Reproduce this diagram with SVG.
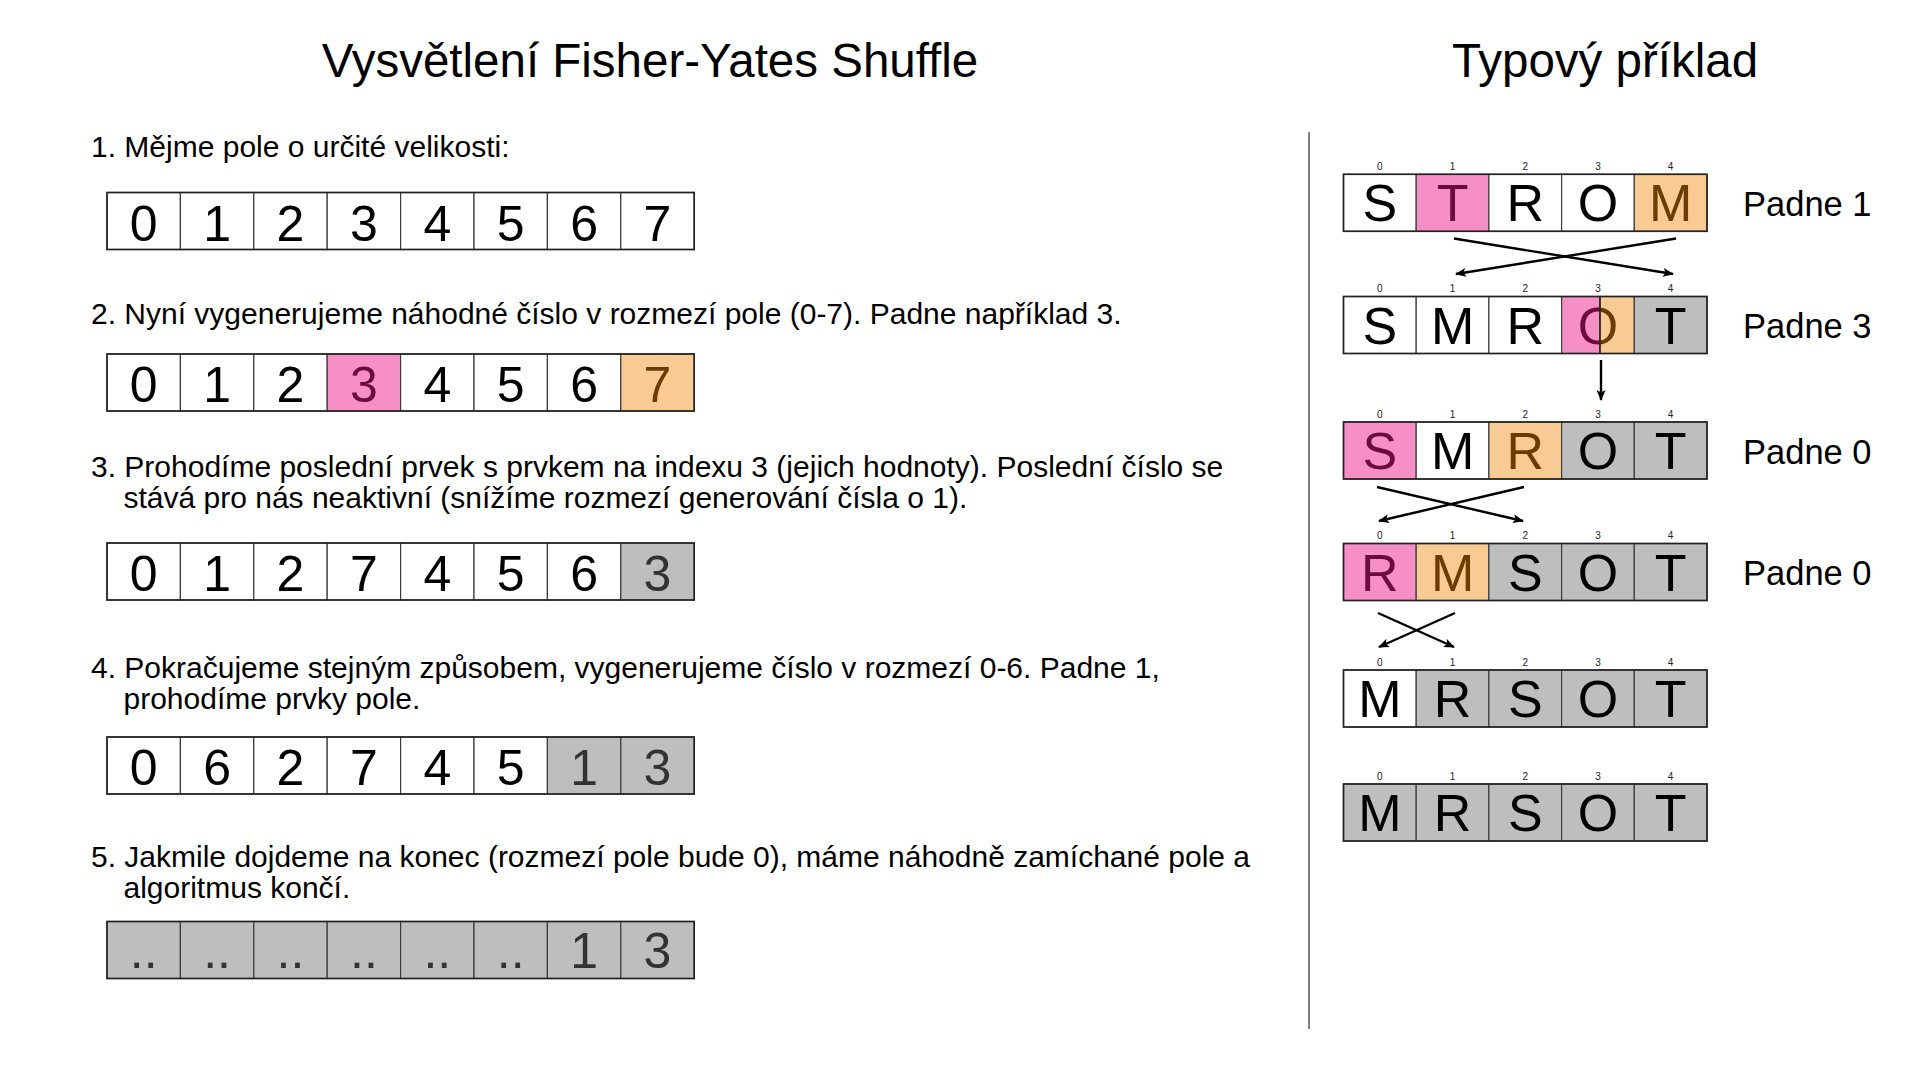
<svg xmlns="http://www.w3.org/2000/svg" width="1920" height="1080" viewBox="0 0 1920 1080">
<style>
text{font-family:"Liberation Sans",Arial,sans-serif}
.title{font-size:47.5px;fill:#000;text-anchor:middle}
.step{font-size:30px;fill:#000}
.cell{stroke:#3c3c3c;stroke-width:1.2}
.frame{fill:none;stroke:#222;stroke-width:1.6}
.w{fill:#fff}.p{fill:#F78FC7}.o{fill:#F8CA94}.g{fill:#BEBEBE}
.d{font-size:50px;text-anchor:middle;fill:#000}
.l{font-size:52px;text-anchor:middle;fill:#000}
.tp{fill:#6B0A3C}.to{fill:#6A3C00}.tg{fill:#333}
.idx{font-size:10px;text-anchor:middle;fill:#222}
.pad{font-size:34.5px;fill:#000}
.arr{stroke:#000;stroke-width:2.4;fill:none;marker-end:url(#ah)}
</style>
<defs>
<marker id="ah" markerUnits="userSpaceOnUse" markerWidth="12" markerHeight="9" refX="10" refY="4.5" orient="auto">
<path d="M0,0 L11,4.5 L0,9 L2.5,4.5 z" fill="#000"/>
</marker>
<clipPath id="cl"><rect x="1561.6" y="296.5" width="38.4" height="57"/></clipPath>
<clipPath id="cr"><rect x="1600" y="296.5" width="34.3" height="57"/></clipPath>
</defs>
<rect width="1920" height="1080" fill="#fff"/>

<g id="titles">
<text class="title" x="650" y="77">Vysvětlení Fisher-Yates Shuffle</text>
<text class="title" x="1605" y="77">Typový příklad</text>
</g>

<g id="steps">
<text class="step" x="91" y="157">1. Mějme pole o určité velikosti:</text>
<text class="step" x="91" y="324">2. Nyní vygenerujeme náhodné číslo v rozmezí pole (0-7). Padne například 3.</text>
<text class="step" x="91" y="477">3. Prohodíme poslední prvek s prvkem na indexu 3 (jejich hodnoty). Poslední číslo se</text>
<text class="step" x="123.5" y="508">stává pro nás neaktivní (snížíme rozmezí generování čísla o 1).</text>
<text class="step" x="91" y="678">4. Pokračujeme stejným způsobem, vygenerujeme číslo v rozmezí 0-6. Padne 1,</text>
<text class="step" x="123.5" y="709">prohodíme prvky pole.</text>
<text class="step" x="91" y="867">5. Jakmile dojdeme na konec (rozmezí pole bude 0), máme náhodně zamíchané pole a</text>
<text class="step" x="123.5" y="898">algoritmus končí.</text>
</g>

<g id="array1">
<rect class="cell w" x="107" y="192.5" width="73.4" height="57"/>
<rect class="cell w" x="180.4" y="192.5" width="73.4" height="57"/>
<rect class="cell w" x="253.8" y="192.5" width="73.4" height="57"/>
<rect class="cell w" x="327.2" y="192.5" width="73.4" height="57"/>
<rect class="cell w" x="400.6" y="192.5" width="73.4" height="57"/>
<rect class="cell w" x="474" y="192.5" width="73.4" height="57"/>
<rect class="cell w" x="547.4" y="192.5" width="73.4" height="57"/>
<rect class="cell w" x="620.8" y="192.5" width="73.4" height="57"/>
<rect class="frame" x="107" y="192.5" width="587.2" height="57"/>
<text class="d" x="143.7" y="240.5">0</text>
<text class="d" x="217.1" y="240.5">1</text>
<text class="d" x="290.5" y="240.5">2</text>
<text class="d" x="363.9" y="240.5">3</text>
<text class="d" x="437.3" y="240.5">4</text>
<text class="d" x="510.7" y="240.5">5</text>
<text class="d" x="584.1" y="240.5">6</text>
<text class="d" x="657.5" y="240.5">7</text>
</g>

<g id="array2">
<rect class="cell w" x="107" y="354" width="73.4" height="57"/>
<rect class="cell w" x="180.4" y="354" width="73.4" height="57"/>
<rect class="cell w" x="253.8" y="354" width="73.4" height="57"/>
<rect class="cell p" x="327.2" y="354" width="73.4" height="57"/>
<rect class="cell w" x="400.6" y="354" width="73.4" height="57"/>
<rect class="cell w" x="474" y="354" width="73.4" height="57"/>
<rect class="cell w" x="547.4" y="354" width="73.4" height="57"/>
<rect class="cell o" x="620.8" y="354" width="73.4" height="57"/>
<rect class="frame" x="107" y="354" width="587.2" height="57"/>
<text class="d" x="143.7" y="402">0</text>
<text class="d" x="217.1" y="402">1</text>
<text class="d" x="290.5" y="402">2</text>
<text class="d tp" x="363.9" y="402">3</text>
<text class="d" x="437.3" y="402">4</text>
<text class="d" x="510.7" y="402">5</text>
<text class="d" x="584.1" y="402">6</text>
<text class="d to" x="657.5" y="402">7</text>
</g>

<g id="array3">
<rect class="cell w" x="107" y="543" width="73.4" height="57"/>
<rect class="cell w" x="180.4" y="543" width="73.4" height="57"/>
<rect class="cell w" x="253.8" y="543" width="73.4" height="57"/>
<rect class="cell w" x="327.2" y="543" width="73.4" height="57"/>
<rect class="cell w" x="400.6" y="543" width="73.4" height="57"/>
<rect class="cell w" x="474" y="543" width="73.4" height="57"/>
<rect class="cell w" x="547.4" y="543" width="73.4" height="57"/>
<rect class="cell g" x="620.8" y="543" width="73.4" height="57"/>
<rect class="frame" x="107" y="543" width="587.2" height="57"/>
<text class="d" x="143.7" y="591">0</text>
<text class="d" x="217.1" y="591">1</text>
<text class="d" x="290.5" y="591">2</text>
<text class="d" x="363.9" y="591">7</text>
<text class="d" x="437.3" y="591">4</text>
<text class="d" x="510.7" y="591">5</text>
<text class="d" x="584.1" y="591">6</text>
<text class="d tg" x="657.5" y="591">3</text>
</g>

<g id="array4">
<rect class="cell w" x="107" y="737" width="73.4" height="57"/>
<rect class="cell w" x="180.4" y="737" width="73.4" height="57"/>
<rect class="cell w" x="253.8" y="737" width="73.4" height="57"/>
<rect class="cell w" x="327.2" y="737" width="73.4" height="57"/>
<rect class="cell w" x="400.6" y="737" width="73.4" height="57"/>
<rect class="cell w" x="474" y="737" width="73.4" height="57"/>
<rect class="cell g" x="547.4" y="737" width="73.4" height="57"/>
<rect class="cell g" x="620.8" y="737" width="73.4" height="57"/>
<rect class="frame" x="107" y="737" width="587.2" height="57"/>
<text class="d" x="143.7" y="785">0</text>
<text class="d" x="217.1" y="785">6</text>
<text class="d" x="290.5" y="785">2</text>
<text class="d" x="363.9" y="785">7</text>
<text class="d" x="437.3" y="785">4</text>
<text class="d" x="510.7" y="785">5</text>
<text class="d tg" x="584.1" y="785">1</text>
<text class="d tg" x="657.5" y="785">3</text>
</g>

<g id="array5">
<rect class="cell g" x="107" y="921.5" width="73.4" height="57"/>
<rect class="cell g" x="180.4" y="921.5" width="73.4" height="57"/>
<rect class="cell g" x="253.8" y="921.5" width="73.4" height="57"/>
<rect class="cell g" x="327.2" y="921.5" width="73.4" height="57"/>
<rect class="cell g" x="400.6" y="921.5" width="73.4" height="57"/>
<rect class="cell g" x="474" y="921.5" width="73.4" height="57"/>
<rect class="cell g" x="547.4" y="921.5" width="73.4" height="57"/>
<rect class="cell g" x="620.8" y="921.5" width="73.4" height="57"/>
<rect class="frame" x="107" y="921.5" width="587.2" height="57"/>
<text class="d tg" x="143.7" y="968">..</text>
<text class="d tg" x="217.1" y="968">..</text>
<text class="d tg" x="290.5" y="968">..</text>
<text class="d tg" x="363.9" y="968">..</text>
<text class="d tg" x="437.3" y="968">..</text>
<text class="d tg" x="510.7" y="968">..</text>
<text class="d tg" x="584.1" y="968">1</text>
<text class="d tg" x="657.5" y="968">3</text>
</g>

<g id="separator">
<line x1="1309" y1="132" x2="1309" y2="1029" stroke="#555" stroke-width="1.5"/>
</g>

<g id="row1">
<rect class="cell w" x="1343.5" y="174.3" width="72.7" height="57"/>
<rect class="cell p" x="1416.2" y="174.3" width="72.7" height="57"/>
<rect class="cell w" x="1488.9" y="174.3" width="72.7" height="57"/>
<rect class="cell w" x="1561.6" y="174.3" width="72.7" height="57"/>
<rect class="cell o" x="1634.3" y="174.3" width="72.7" height="57"/>
<rect class="frame" x="1343.5" y="174.3" width="363.5" height="57"/>
<text class="idx" x="1379.85" y="169.8">0</text><text class="idx" x="1452.55" y="169.8">1</text><text class="idx" x="1525.25" y="169.8">2</text><text class="idx" x="1597.95" y="169.8">3</text><text class="idx" x="1670.65" y="169.8">4</text>
<text class="l" x="1379.85" y="221.3">S</text>
<text class="l tp" x="1452.55" y="221.3">T</text>
<text class="l" x="1525.25" y="221.3">R</text>
<text class="l" x="1597.95" y="221.3">O</text>
<text class="l to" x="1670.65" y="221.3">M</text>
<text class="pad" x="1743" y="216">Padne 1</text>
</g>

<g id="row2">
<rect class="cell w" x="1343.5" y="296.5" width="72.7" height="57"/>
<rect class="cell w" x="1416.2" y="296.5" width="72.7" height="57"/>
<rect class="cell w" x="1488.9" y="296.5" width="72.7" height="57"/>
<rect class="cell p" x="1561.6" y="296.5" width="38.4" height="57"/>
<rect class="cell o" x="1600" y="296.5" width="34.3" height="57"/>
<rect class="cell g" x="1634.3" y="296.5" width="72.7" height="57"/>
<rect class="frame" x="1343.5" y="296.5" width="363.5" height="57"/>
<text class="idx" x="1379.85" y="292">0</text><text class="idx" x="1452.55" y="292">1</text><text class="idx" x="1525.25" y="292">2</text><text class="idx" x="1597.95" y="292">3</text><text class="idx" x="1670.65" y="292">4</text>
<text class="l" x="1379.85" y="343.5">S</text>
<text class="l" x="1452.55" y="343.5">M</text>
<text class="l" x="1525.25" y="343.5">R</text>
<text class="l tp" x="1597.95" y="343.5" clip-path="url(#cl)">O</text>
<text class="l to" x="1597.95" y="343.5" clip-path="url(#cr)">O</text>
<line x1="1600" y1="296.5" x2="1600" y2="353.5" stroke="#222" stroke-width="1.4"/>
<text class="l" x="1670.65" y="343.5">T</text>
<text class="pad" x="1743" y="338.2">Padne 3</text>
</g>

<g id="row3">
<rect class="cell p" x="1343.5" y="422" width="72.7" height="57"/>
<rect class="cell w" x="1416.2" y="422" width="72.7" height="57"/>
<rect class="cell o" x="1488.9" y="422" width="72.7" height="57"/>
<rect class="cell g" x="1561.6" y="422" width="72.7" height="57"/>
<rect class="cell g" x="1634.3" y="422" width="72.7" height="57"/>
<rect class="frame" x="1343.5" y="422" width="363.5" height="57"/>
<text class="idx" x="1379.85" y="417.5">0</text><text class="idx" x="1452.55" y="417.5">1</text><text class="idx" x="1525.25" y="417.5">2</text><text class="idx" x="1597.95" y="417.5">3</text><text class="idx" x="1670.65" y="417.5">4</text>
<text class="l tp" x="1379.85" y="469">S</text>
<text class="l" x="1452.55" y="469">M</text>
<text class="l to" x="1525.25" y="469">R</text>
<text class="l" x="1597.95" y="469">O</text>
<text class="l" x="1670.65" y="469">T</text>
<text class="pad" x="1743" y="463.7">Padne 0</text>
</g>

<g id="row4">
<rect class="cell p" x="1343.5" y="543.5" width="72.7" height="57"/>
<rect class="cell o" x="1416.2" y="543.5" width="72.7" height="57"/>
<rect class="cell g" x="1488.9" y="543.5" width="72.7" height="57"/>
<rect class="cell g" x="1561.6" y="543.5" width="72.7" height="57"/>
<rect class="cell g" x="1634.3" y="543.5" width="72.7" height="57"/>
<rect class="frame" x="1343.5" y="543.5" width="363.5" height="57"/>
<text class="idx" x="1379.85" y="539">0</text><text class="idx" x="1452.55" y="539">1</text><text class="idx" x="1525.25" y="539">2</text><text class="idx" x="1597.95" y="539">3</text><text class="idx" x="1670.65" y="539">4</text>
<text class="l tp" x="1379.85" y="590.5">R</text>
<text class="l to" x="1452.55" y="590.5">M</text>
<text class="l" x="1525.25" y="590.5">S</text>
<text class="l" x="1597.95" y="590.5">O</text>
<text class="l" x="1670.65" y="590.5">T</text>
<text class="pad" x="1743" y="585.2">Padne 0</text>
</g>

<g id="row5">
<rect class="cell w" x="1343.5" y="670" width="72.7" height="57"/>
<rect class="cell g" x="1416.2" y="670" width="72.7" height="57"/>
<rect class="cell g" x="1488.9" y="670" width="72.7" height="57"/>
<rect class="cell g" x="1561.6" y="670" width="72.7" height="57"/>
<rect class="cell g" x="1634.3" y="670" width="72.7" height="57"/>
<rect class="frame" x="1343.5" y="670" width="363.5" height="57"/>
<text class="idx" x="1379.85" y="665.5">0</text><text class="idx" x="1452.55" y="665.5">1</text><text class="idx" x="1525.25" y="665.5">2</text><text class="idx" x="1597.95" y="665.5">3</text><text class="idx" x="1670.65" y="665.5">4</text>
<text class="l" x="1379.85" y="717">M</text>
<text class="l" x="1452.55" y="717">R</text>
<text class="l" x="1525.25" y="717">S</text>
<text class="l" x="1597.95" y="717">O</text>
<text class="l" x="1670.65" y="717">T</text>
</g>

<g id="row6">
<rect class="cell g" x="1343.5" y="784" width="72.7" height="57"/>
<rect class="cell g" x="1416.2" y="784" width="72.7" height="57"/>
<rect class="cell g" x="1488.9" y="784" width="72.7" height="57"/>
<rect class="cell g" x="1561.6" y="784" width="72.7" height="57"/>
<rect class="cell g" x="1634.3" y="784" width="72.7" height="57"/>
<rect class="frame" x="1343.5" y="784" width="363.5" height="57"/>
<text class="idx" x="1379.85" y="779.5">0</text><text class="idx" x="1452.55" y="779.5">1</text><text class="idx" x="1525.25" y="779.5">2</text><text class="idx" x="1597.95" y="779.5">3</text><text class="idx" x="1670.65" y="779.5">4</text>
<text class="l" x="1379.85" y="831">M</text>
<text class="l" x="1452.55" y="831">R</text>
<text class="l" x="1525.25" y="831">S</text>
<text class="l" x="1597.95" y="831">O</text>
<text class="l" x="1670.65" y="831">T</text>
</g>

<g id="connectors">
<line class="arr" x1="1454" y1="238.5" x2="1673" y2="274"/>
<line class="arr" x1="1676" y1="238.5" x2="1456" y2="274"/>
<line class="arr" x1="1601" y1="360" x2="1601" y2="400"/>
<line class="arr" x1="1377" y1="487" x2="1523" y2="521"/>
<line class="arr" x1="1524" y1="487" x2="1379" y2="521"/>
<line class="arr" x1="1378" y1="613" x2="1454" y2="647"/>
<line class="arr" x1="1455" y1="613" x2="1379" y2="647"/>
</g>
</svg>
